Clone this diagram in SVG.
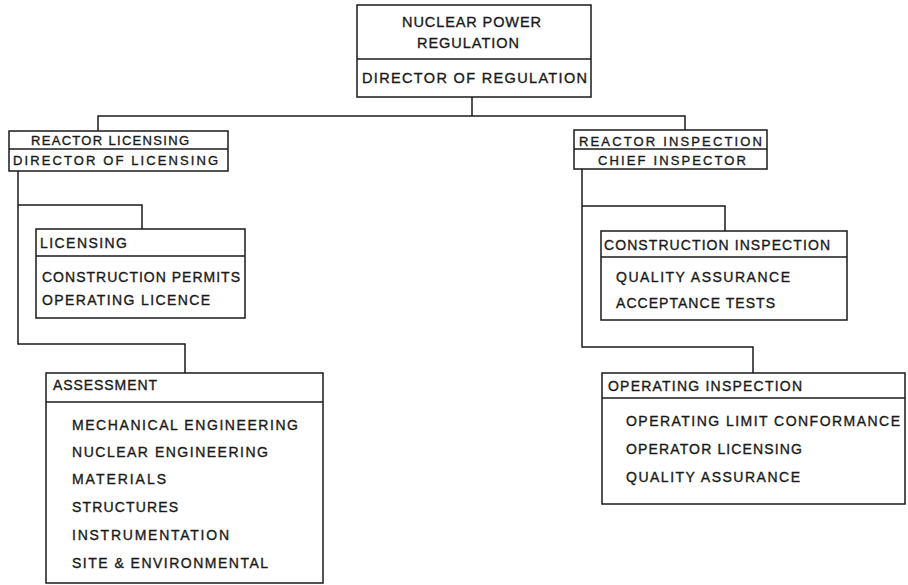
<svg xmlns="http://www.w3.org/2000/svg" width="908" height="585" viewBox="0 0 908 585">
<style>
.box{fill:#fff;stroke:#1a1a1a;stroke-width:1.5}
.div{stroke:#1a1a1a;stroke-width:1.5}
.con{fill:none;stroke:#1a1a1a;stroke-width:1.5}
text{font-family:"Liberation Sans",Arial,sans-serif;font-size:14px;fill:#1a1a1a;stroke:#1a1a1a;stroke-width:0.35}
.s{font-size:13px}
.t{font-size:14.5px}
</style>
<rect width="908" height="585" fill="#fff"/>
<g id="connectors">
<path class="con" d="M472,97 V116 M98,131 V116 H685 V130"/>
<path class="con" d="M18,171 V344 H185 V373 M18,205 H142 V229"/>
<path class="con" d="M582,169 V347 H753 V373 M582,206 H725 V231"/>
</g>
<g id="nuclear-power-regulation">
<rect class="box" x="357" y="5" width="234" height="92"/>
<line class="div" x1="357" y1="59" x2="591" y2="59"/>
<text class="t" x="402" y="27" textLength="139" lengthAdjust="spacing">NUCLEAR POWER</text>
<text class="t" x="417" y="48" textLength="102" lengthAdjust="spacing">REGULATION</text>
<text class="t" x="362" y="83" textLength="225" lengthAdjust="spacing">DIRECTOR OF REGULATION</text>
</g>
<g id="reactor-licensing">
<rect class="box" x="9" y="131" width="219" height="40"/>
<line class="div" x1="9" y1="149" x2="228" y2="149"/>
<text class="s" x="31" y="145" textLength="158" lengthAdjust="spacing">REACTOR LICENSING</text>
<text class="s" x="13" y="165" textLength="205" lengthAdjust="spacing">DIRECTOR OF LICENSING</text>
</g>
<g id="reactor-inspection">
<rect class="box" x="574" y="130" width="193" height="39"/>
<line class="div" x1="574" y1="149" x2="767" y2="149"/>
<text class="s" x="579" y="146" textLength="183" lengthAdjust="spacing">REACTOR INSPECTION</text>
<text class="s" x="598" y="165" textLength="148" lengthAdjust="spacing">CHIEF INSPECTOR</text>
</g>
<g id="licensing">
<rect class="box" x="36" y="229" width="209" height="89"/>
<line class="div" x1="36" y1="256" x2="245" y2="256"/>
<text x="40" y="248" textLength="87" lengthAdjust="spacing">LICENSING</text>
<text x="42" y="282" textLength="198" lengthAdjust="spacing">CONSTRUCTION PERMITS</text>
<text x="42" y="305" textLength="168" lengthAdjust="spacing">OPERATING LICENCE</text>
</g>
<g id="assessment">
<rect class="box" x="46" y="373" width="277" height="210"/>
<line class="div" x1="46" y1="402" x2="323" y2="402"/>
<text x="53" y="390" textLength="104" lengthAdjust="spacing">ASSESSMENT</text>
<text x="72" y="430" textLength="226" lengthAdjust="spacing">MECHANICAL ENGINEERING</text>
<text x="72" y="457" textLength="196" lengthAdjust="spacing">NUCLEAR ENGINEERING</text>
<text x="72" y="484" textLength="94" lengthAdjust="spacing">MATERIALS</text>
<text x="72" y="512" textLength="106" lengthAdjust="spacing">STRUCTURES</text>
<text x="72" y="540" textLength="157" lengthAdjust="spacing">INSTRUMENTATION</text>
<text x="72" y="568" textLength="196" lengthAdjust="spacing">SITE &amp; ENVIRONMENTAL</text>
</g>
<g id="construction-inspection">
<rect class="box" x="601" y="231" width="246" height="89"/>
<line class="div" x1="601" y1="257" x2="847" y2="257"/>
<text x="604" y="250" textLength="226" lengthAdjust="spacing">CONSTRUCTION INSPECTION</text>
<text x="616" y="282" textLength="174" lengthAdjust="spacing">QUALITY ASSURANCE</text>
<text x="616" y="308" textLength="159" lengthAdjust="spacing">ACCEPTANCE TESTS</text>
</g>
<g id="operating-inspection">
<rect class="box" x="602" y="373" width="303" height="131"/>
<line class="div" x1="602" y1="398" x2="905" y2="398"/>
<text x="608" y="391" textLength="194" lengthAdjust="spacing">OPERATING INSPECTION</text>
<text x="626" y="426" textLength="274" lengthAdjust="spacing">OPERATING LIMIT CONFORMANCE</text>
<text x="626" y="454" textLength="176" lengthAdjust="spacing">OPERATOR LICENSING</text>
<text x="626" y="482" textLength="174" lengthAdjust="spacing">QUALITY ASSURANCE</text>
</g>
</svg>
